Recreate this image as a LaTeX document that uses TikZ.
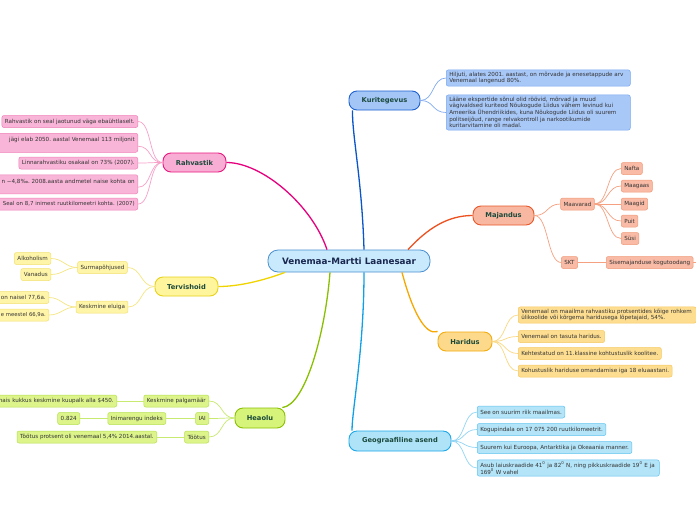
\documentclass[tikz,border=0pt]{standalone}
\usepackage{fontspec}
\setmainfont{DejaVu Sans}
\frenchspacing
\newcommand{\fsm}{\fontsize{5.6}{6.65}\selectfont\frenchspacing}
\newcommand{\fmain}{\fontsize{6.7}{8}\selectfont\bfseries}
\newcommand{\fctr}{\fontsize{8.8}{10}\selectfont\bfseries}
\definecolor{txt}{HTML}{333333}
\definecolor{maintxt}{HTML}{1B4A3C}
\definecolor{ctrtxt}{HTML}{1A2850}
\definecolor{ctrF}{HTML}{C9EAFC}\definecolor{ctrB}{HTML}{4A90D0}
\definecolor{rahF}{HTML}{F8AED4}\definecolor{rahB}{HTML}{E8187F}\definecolor{rahS}{HTML}{F9B5D8}\definecolor{rahSB}{HTML}{F080B8}\definecolor{rahL}{HTML}{E6007E}\definecolor{rahSL}{HTML}{F7A1C9}
\definecolor{kurF}{HTML}{A4C6F7}\definecolor{kurB}{HTML}{1E62D0}\definecolor{kurS}{HTML}{A8C8F8}\definecolor{kurSB}{HTML}{78A8F0}\definecolor{kurL}{HTML}{0A55C8}\definecolor{kurSL}{HTML}{80AAF0}
\definecolor{majF}{HTML}{F8B7A0}\definecolor{majB}{HTML}{E8582A}\definecolor{majS}{HTML}{F9BBA6}\definecolor{majSB}{HTML}{F09A78}\definecolor{majL}{HTML}{EC5120}\definecolor{majSL}{HTML}{F5A080}
\definecolor{terF}{HTML}{FFF59D}\definecolor{terB}{HTML}{E8D21A}\definecolor{terS}{HTML}{FFF5A8}\definecolor{terSB}{HTML}{F2E070}\definecolor{terL}{HTML}{F0D400}\definecolor{terSL}{HTML}{F5E680}
\definecolor{harF}{HTML}{FDD98B}\definecolor{harB}{HTML}{F2AC10}\definecolor{harS}{HTML}{FDDD90}\definecolor{harSB}{HTML}{F6C860}\definecolor{harL}{HTML}{F7A800}\definecolor{harSL}{HTML}{FAD880}
\definecolor{heaF}{HTML}{D7F47A}\definecolor{heaB}{HTML}{8AC000}\definecolor{heaS}{HTML}{DCF48A}\definecolor{heaSB}{HTML}{B6E050}\definecolor{heaL}{HTML}{88C000}\definecolor{heaSL}{HTML}{C8EA70}
\definecolor{geoF}{HTML}{AFE3F8}\definecolor{geoB}{HTML}{1CA8E8}\definecolor{geoS}{HTML}{B3E4F8}\definecolor{geoSB}{HTML}{60C4F0}\definecolor{geoL}{HTML}{10A0E8}\definecolor{geoSL}{HTML}{90D4F4}
\tikzset{
  sub/.style={draw, rounded corners=2pt, line width=0.5pt, font=\fsm, text=txt, inner xsep=3pt, inner ysep=2pt, minimum height=12pt},
  topic/.style={draw, rounded corners=8pt, line width=0.9pt, font=\fmain, text=maintxt, minimum height=19pt},
  mainline/.style={line width=1.3pt},
  subline/.style={line width=0.7pt},
}
\begin{document}
\begin{tikzpicture}[x=1pt,y=-1pt]
\useasboundingbox (0,0) rectangle (696,520);
\clip (0,0) rectangle (696,520);
\fill[white] (0,0) rectangle (696,520);

% centre
\node[draw=ctrB, fill=ctrF, line width=0.8pt, rounded corners=10pt, minimum width=162pt, minimum height=22pt, font=\fctr, text=ctrtxt] (c) at (349,261) {Venemaa-Martti Laanesaar};

% main topics
\node[topic, draw=rahB, fill=rahF, minimum width=63pt] (rah) at (194.5,162.5) {Rahvastik};
\node[topic, draw=kurB, fill=kurF, minimum width=71pt] (kur) at (384.5,100.5) {Kuritegevus};
\node[topic, draw=majB, fill=majF, minimum width=61pt] (maj) at (503.5,215.5) {Majandus};
\node[topic, draw=terB, fill=terF, minimum width=63pt] (ter) at (186.5,286.5) {Tervishoid};
\node[topic, draw=harB, fill=harF, minimum width=54pt] (har) at (465,341.5) {Haridus};
\node[topic, draw=heaB, fill=heaF, minimum width=50pt, minimum height=20pt] (hea) at (260,418) {Heaolu};
\node[topic, draw=geoB, fill=geoF, minimum width=102pt, minimum height=20pt] (geo) at (400,441) {Geograafiline asend};

% main connectors
\draw[mainline, rahL] ([xshift=-22pt]c.north) .. controls (312,205) and (262,162.5) .. (rah.east);
\draw[mainline, kurL] ([xshift=15pt]c.north) .. controls (362,180) and (352,135) .. ([xshift=-32pt]kur.south);
\draw[mainline, majL] ([xshift=59pt]c.north) .. controls (428,228) and (448,215.5) .. (maj.west);
\draw[mainline, terL] ([xshift=-64pt]c.south) .. controls (262,281) and (238,286.5) .. (ter.east);
\draw[mainline, harL] ([xshift=53pt]c.south) .. controls (412,310) and (425,336) .. (har.160);
\draw[mainline, heaL] ([xshift=-19pt]c.south) .. controls (325,335) and (305,405) .. (hea.25);
\draw[mainline, geoL] ([xshift=15pt]c.south) .. controls (364,350) and (352,410) .. ([xshift=-48pt]geo.north);

% Rahvastik children
\node[sub, draw=rahSB, fill=rahS, anchor=east] (r1) at (138,121.5) {Rahvastik on seal jaotunud väga ebaühtlaselt.};
\node[sub, draw=rahSB, fill=rahS, anchor=north east, text width=180pt, align=right, minimum height=19pt] (r2) at (138,133) {jägi elab 2050. aastal Venemaal 113 miljonit\hspace*{6pt}\\ \mbox{}};
\node[sub, draw=rahSB, fill=rahS, anchor=east] (r3) at (138,163) {Linnarahvastiku osakaal on 73\% (2007).};
\node[sub, draw=rahSB, fill=rahS, anchor=north east, text width=180pt, align=right, minimum height=19pt] (r4) at (138,174.5) {n −4,8‰. 2008.aasta andmetel naise kohta on\hspace*{2pt}\\ \mbox{}};
\node[sub, draw=rahSB, fill=rahS, anchor=east, text width=170pt, align=right, font=\fontsize{5.45}{6.65}\selectfont\frenchspacing] (r5) at (138,204) {Seal on 8,7 inimest ruutkilomeetri kohta. (2007)};
\foreach \n in {r1,r3,r5}
  \draw[subline, rahSL] (rah.west) .. controls +(-14,0) and +(14,0) .. (\n.east);
\draw[subline, rahSL] (rah.west) .. controls +(-14,0) and +(14,0) .. ([yshift=-3.5pt]r2.east);
\draw[subline, rahSL] (rah.west) .. controls +(-14,0) and +(14,0) .. ([yshift=-3pt]r4.east);

% Kuritegevus children
\node[sub, draw=kurSB, fill=kurS, anchor=west, text width=178pt, align=left] (k1) at (446,78) {Hiljuti, alates 2001. aastast, on mõrvade ja enesetappude arv\\Venemaal langenud 80\%.};
\node[sub, draw=kurSB, fill=kurS, anchor=west, text width=178pt, align=left] (k2) at (446,112.5) {Lääne ekspertide sõnul olid röövid, mõrvad ja muud\\vägivaldsed kuriteod Nõukogude Liidus vähem levinud kui\\Ameerika Ühendriikides, kuna Nõukogude Liidus oli suurem\\politseijõud, range relvakontroll ja narkootikumide\\kuritarvitamine oli madal.};
\foreach \n in {k1,k2}
  \draw[subline, kurSL] (kur.east) .. controls +(14,0) and +(-14,0) .. (\n.west);

% Majandus children
\node[sub, draw=majSB, fill=majS] (maa) at (577.5,204) {Maavarad};
\node[sub, draw=majSB, fill=majS] (skt) at (569.5,262.5) {SKT};
\node[sub, draw=majSB, fill=majS, anchor=west] (m1) at (621,168.5) {Nafta};
\node[sub, draw=majSB, fill=majS, anchor=west] (m2) at (621,186) {Maagaas};
\node[sub, draw=majSB, fill=majS, anchor=west] (m3) at (621,204) {Maagid};
\node[sub, draw=majSB, fill=majS, anchor=west] (m4) at (621,221) {Puit};
\node[sub, draw=majSB, fill=majS, anchor=west] (m5) at (621,238.5) {Süsi};
\node[sub, draw=majSB, fill=majS, anchor=west] (sis) at (606,262.5) {Sisemajanduse kogutoodang};
\coordinate (sisx) at (700,262.5);
\foreach \n in {maa,skt}
  \draw[subline, majSL] (maj.east) .. controls +(14,0) and +(-14,0) .. (\n.west);
\foreach \n in {m1,m2,m3,m4,m5}
  \draw[subline, majSL] (maa.east) .. controls +(14,0) and +(-14,0) .. (\n.west);
\draw[subline, majSL] (skt.east) -- (sis.west);
\draw[subline, majSL] (sis.east) -- (sisx);

% Tervishoid children
\node[sub, draw=terSB, fill=terS] (sur) at (102.5,267.5) {Surmapõhjused};
\node[sub, draw=terSB, fill=terS] (kel) at (102,307) {Keskmine eluiga};
\node[sub, draw=terSB, fill=terS, anchor=east] (alk) at (51,258.5) {Alkoholism};
\node[sub, draw=terSB, fill=terS, anchor=east] (van) at (51,274.5) {Vanadus};
\node[sub, draw=terSB, fill=terS, anchor=east, text width=80pt, align=right] (el1) at (49,297.5) {on naisel 77,6a.};
\node[sub, draw=terSB, fill=terS, anchor=east, text width=80pt, align=right, font=\fontsize{5.3}{6.65}\selectfont\frenchspacing] (el2) at (49,315) {e meestel 66,9a.};
\foreach \n in {sur,kel}
  \draw[subline, terSL] (ter.west) .. controls +(-14,0) and +(14,0) .. (\n.east);
\foreach \n in {alk,van}
  \draw[subline, terSL] (sur.west) .. controls +(-12,0) and +(12,0) .. (\n.east);
\foreach \n in {el1,el2}
  \draw[subline, terSL] (kel.west) .. controls +(-12,0) and +(12,0) .. (\n.east);

% Heaolu children
\node[sub, draw=heaSB, fill=heaS, anchor=east] (kp) at (209,401) {Keskmine palgamäär};
\node[sub, draw=heaSB, fill=heaS, anchor=east] (iai) at (209,418.5) {IAI};
\node[sub, draw=heaSB, fill=heaS, anchor=east] (too) at (209,437) {Töötus};
\node[sub, draw=heaSB, fill=heaS, anchor=east, text width=150pt, align=right] (kpt) at (117,401) {nais kukkus keskmine kuupalk alla \$450.};
\node[sub, draw=heaSB, fill=heaS, anchor=east] (ii) at (166,418.5) {Inimarengu indeks};
\node[sub, draw=heaSB, fill=heaS, anchor=east] (val) at (80,418.5) {0.824};
\node[sub, draw=heaSB, fill=heaS, anchor=east] (tt) at (157,437) {Töötus protsent oli venemaal 5,4\% 2014.aastal.};
\foreach \n in {kp,iai,too}
  \draw[subline, heaSL] (hea.west) .. controls +(-14,0) and +(14,0) .. (\n.east);
\draw[subline, heaSL] (kp.west) -- (kpt.east);
\draw[subline, heaSL] (iai.west) -- (ii.east);
\draw[subline, heaSL] (ii.west) -- (val.east);
\draw[subline, heaSL] (too.west) -- (tt.east);

% Haridus children
\node[sub, draw=harSB, fill=harS, anchor=west, text width=172pt, align=left] (h1) at (518,315) {Venemaal on maailma rahvastiku protsentides kõige rohkem\\ülikoolide või kõrgema haridusega lõpetajaid, 54\%.};
\node[sub, draw=harSB, fill=harS, anchor=west] (h2) at (518,336.5) {Venemaal on tasuta haridus.};
\node[sub, draw=harSB, fill=harS, anchor=west] (h3) at (518,353.5) {Kehtestatud on 11.klassine kohtustuslik koolitee.};
\node[sub, draw=harSB, fill=harS, anchor=west] (h4) at (518,371) {Kohustuslik hariduse omandamise iga 18 eluaastani.};
\foreach \n in {h1,h2,h3,h4}
  \draw[subline, harSL] (har.east) .. controls +(14,0) and +(-14,0) .. (\n.west);

% Geograafiline asend children
\node[sub, draw=geoSB, fill=geoS, anchor=west] (g1) at (477,412) {See on suurim riik maailmas.};
\node[sub, draw=geoSB, fill=geoS, anchor=west] (g2) at (477,429.5) {Kogupindala on 17 075 200 ruutkilomeetrit.};
\node[sub, draw=geoSB, fill=geoS, anchor=west] (g3) at (477,447.5) {Suurem kui Euroopa, Antarktika ja Okeaania manner.};
\node[sub, draw=geoSB, fill=geoS, anchor=west, text width=176pt, align=left] (g4) at (477,468) {Asub laiuskraadide 41\textsuperscript{0} ja 82\textsuperscript{0} N, ning pikkuskraadide 19\textsuperscript{0} E ja\\169\textsuperscript{0} W vahel};
\foreach \n in {g1,g2,g3,g4}
  \draw[subline, geoSL] (geo.east) .. controls +(14,0) and +(-14,0) .. (\n.west);
\end{tikzpicture}
\end{document}
